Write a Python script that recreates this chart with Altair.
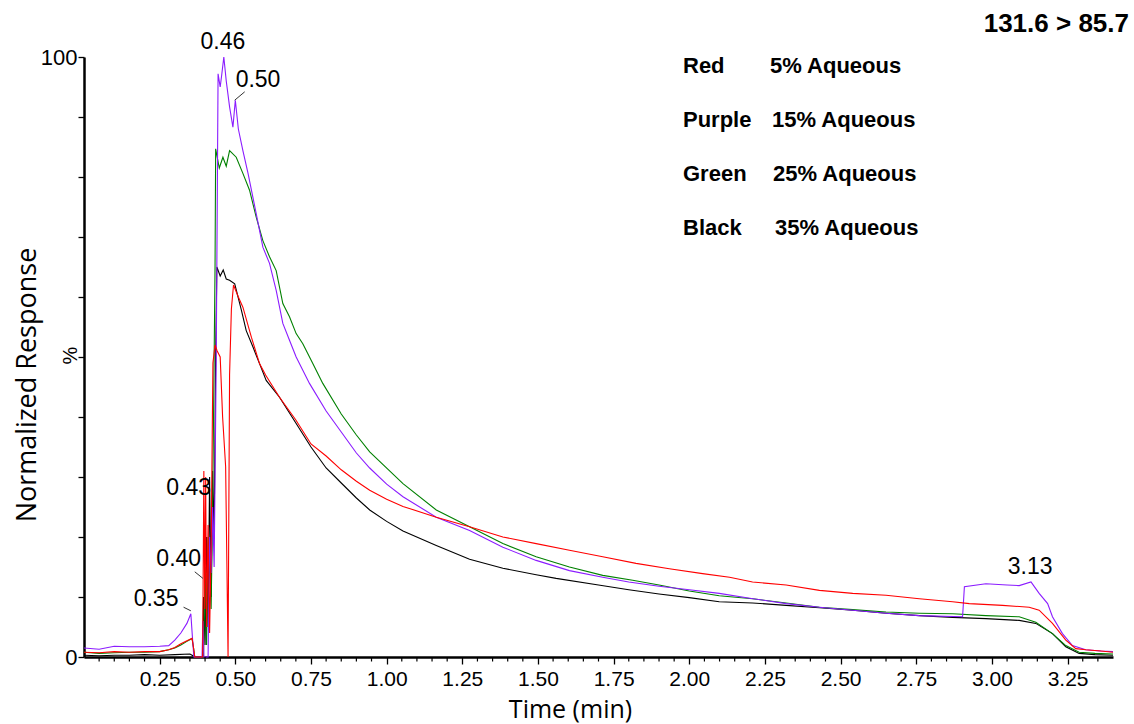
import altair as alt
import pandas as pd
import numpy as np

# ---------------- data ----------------
red_t = [0, 0.05, 0.1, 0.15, 0.2, 0.25, 0.28, 0.3, 0.32, 0.34, 0.357, 0.362, 0.366, 0.392, 0.396, 0.399, 0.402, 0.405, 0.41, 0.415,
         0.42, 0.426, 0.433, 0.44, 0.45, 0.458, 0.468, 0.472, 0.476, 0.481, 0.487, 0.494, 0.51, 0.525, 0.553, 0.58, 0.6, 0.646, 0.7, 0.75,
         0.8, 0.85, 0.9, 0.944, 1.0, 1.054, 1.164, 1.274, 1.384, 1.494, 1.604, 1.714, 1.824, 1.934, 2.044, 2.133, 2.209, 2.32, 2.43, 2.54,
         2.65, 2.76, 2.87, 2.925, 3.035, 3.123, 3.156, 3.2, 3.244, 3.277, 3.31, 3.36, 3.4]
red_v = [0.8, 0.7, 0.9, 0.8, 0.9, 0.9, 1.2, 1.6, 2.2, 2.7, 3.1, 1.5, 0, 0, 31, 8, 30, 5, 22, 4,
         18, 49, 52, 51, 50, 40, 31.7, 16, 0, 47, 58, 62, 60, 58.3, 53.3, 48.9, 47, 43.3, 39.5, 35.5,
         33.5, 31.2, 29.3, 27.8, 26.3, 25.1, 23.3, 21.7, 20, 18.9, 17.8, 16.7, 15.6, 14.7, 13.9, 13.3, 12.5, 12, 11.1, 10.6,
         10.3, 9.7, 9.2, 8.9, 8.6, 8.3, 7.8, 5.6, 2.8, 1.4, 1.2, 1.0, 0.8]

purple_t = [0, 0.05, 0.1, 0.15, 0.2, 0.25, 0.28, 0.3, 0.32, 0.34, 0.353, 0.358, 0.363, 0.39, 0.393, 0.396, 0.41, 0.415, 0.42, 0.425,
            0.43, 0.437, 0.443, 0.45, 0.455, 0.462, 0.47, 0.481, 0.492, 0.5, 0.51, 0.525, 0.542, 0.569, 0.591, 0.613, 0.635, 0.657, 0.679, 0.701,
            0.745, 0.8, 0.85, 0.9, 0.944, 1.0, 1.054, 1.164, 1.274, 1.384, 1.494, 1.604, 1.714, 1.8, 1.9, 2.0, 2.099, 2.2, 2.32, 2.43, 2.54,
            2.65, 2.76, 2.903, 2.909, 2.98, 3.05, 3.09, 3.129, 3.156, 3.184, 3.2, 3.233, 3.266, 3.31, 3.36, 3.4]
purple_v = [1.5, 1.3, 1.8, 1.7, 1.7, 1.8, 1.9, 2.8, 4.0, 5.6, 7.2, 3.5, 0, 0, 6, 0, 0, 20, 14, 25,
            15, 50, 97.2, 95, 97, 100, 96, 91.7, 88.3, 92.8, 88, 84.4, 80.6, 73.9, 68.3, 65.6, 61.1, 55.6, 52.8, 50,
            45.6, 41, 37.5, 34.0, 31.5, 28.8, 26.7, 23.3, 21.1, 18.3, 16.1, 14.4, 13.3, 12.5, 11.8, 11.2, 10.6, 9.8, 8.9, 8.3, 7.8,
            7.3, 6.9, 6.7, 11.7, 12.2, 12.0, 11.9, 12.5, 10.6, 8.9, 6.7, 3.9, 1.9, 1.2, 1.0, 0.9]

green_t = [0, 0.05, 0.1, 0.15, 0.2, 0.25, 0.28, 0.3, 0.32, 0.34, 0.357, 0.362, 0.366, 0.395, 0.4, 0.405, 0.41, 0.42, 0.425, 0.43,
           0.433, 0.435, 0.447, 0.459, 0.47, 0.481, 0.503, 0.525, 0.547, 0.569, 0.591, 0.613, 0.635, 0.657, 0.679, 0.701, 0.723, 0.756, 0.789, 0.85,
           0.9, 0.944, 1.054, 1.164, 1.274, 1.384, 1.494, 1.604, 1.714, 1.813, 1.9, 2.0, 2.099, 2.209, 2.32, 2.43, 2.54, 2.65, 2.76, 2.87,
           2.98, 3.09, 3.145, 3.2, 3.244, 3.288, 3.34, 3.4]
green_v = [0.8, 0.6, 0.7, 0.8, 0.8, 0.9, 1.2, 1.5, 2.0, 2.6, 3.1, 1.5, 0, 0, 15, 2, 20, 8, 25, 50,
           65, 84.7, 81.5, 83.3, 81.8, 84.4, 83.3, 80.6, 77.8, 73.3, 69.4, 66.7, 64.4, 58.9, 56.7, 53.9, 52.2, 48.9, 45.6, 40.5,
           37, 34.2, 28.9, 24.5, 21.7, 18.9, 16.7, 15, 13.6, 12.8, 12, 11, 10.2, 9.7, 9, 8.3, 7.9, 7.5, 7.3, 7.2,
           6.9, 6.7, 5.8, 3.9, 1.9, 0.8, 0.6, 0.5]

black_t = [0, 0.05, 0.1, 0.15, 0.2, 0.25, 0.3, 0.35, 0.36, 0.365, 0.392, 0.395, 0.4, 0.405, 0.41, 0.415, 0.42, 0.425, 0.43, 0.435,
           0.439, 0.45, 0.46, 0.47, 0.481, 0.498, 0.52, 0.536, 0.558, 0.58, 0.602, 0.646, 0.7, 0.75, 0.8, 0.85, 0.9, 0.944, 1.0, 1.054, 1.164,
           1.274, 1.384, 1.494, 1.56, 1.7, 1.8, 1.9, 2.0, 2.099, 2.209, 2.32, 2.43, 2.54, 2.65, 2.76, 2.87, 2.98, 3.09, 3.145, 3.2,
           3.244, 3.288, 3.34, 3.4]
black_v = [0.3, 0.2, 0.3, 0.3, 0.4, 0.3, 0.4, 0.5, 0.2, 0, 0, 10, 2, 20, 5, 30, 10, 31, 20, 50,
           65, 63.5, 64.5, 63, 62.8, 62.2, 57.8, 54.4, 51.7, 48.9, 46.1, 43.3, 39, 35, 31.5, 29, 26.5, 24.5, 22.6, 21.0, 18.6,
           16.3, 14.8, 13.7, 13.1, 12, 11.2, 10.5, 9.9, 9.2, 9.0, 8.6, 8.2, 7.8, 7.3, 6.9, 6.6, 6.4, 6.1, 5.6, 3.9,
           1.7, 0.6, 0.4, 0.3]

# peak annotations
ann_label = ["0.46", "0.50", "0.43", "0.40", "0.35", "3.13"]
ann_t = [0.459, 0.575, 0.346, 0.313, 0.238, 3.126]
ann_v = [102.5, 96.2, 28.1, 16.4, 9.7, 15.0]

# leader lines (from label to peak)
lead_t1 = [0.498, 0.366, 0.329]
lead_v1 = [92.8, 14.2, 8.3]
lead_t2 = [0.531, 0.393, 0.353]
lead_v2 = [94.2, 13.1, 7.7]

legend_names = ["Red", "Purple", "Green", "Black"]
legend_descs = ["5% Aqueous", "15% Aqueous", "25% Aqueous", "35% Aqueous"]

major_ticks = [0.25, 0.50, 0.75, 1.00, 1.25, 1.50, 1.75, 2.00, 2.25, 2.50, 2.75, 3.00, 3.25]
minor_ticks = [round(x, 2) for x in np.arange(0.05, 3.40, 0.05) if abs((x / 0.25) - round(x / 0.25)) > 1e-6]
y_ticks = [0, 10, 20, 30, 40, 50, 60, 70, 80, 90, 100]

# ---------------- chart ----------------
ARIAL = "Liberation Sans"
x_scale = alt.Scale(domain=[0, 3.4], nice=False, zero=False)
y_scale = alt.Scale(domain=[0, 100], nice=False)

x_axis = alt.Axis(values=major_ticks, format=".2f", title="Time (min)", grid=False,
                  titleFont="Open Sans", titleFontSize=25, titleFontWeight="normal", titleColor="black",
                  titleX=486, titleY=60, titleAnchor="middle", titleBaseline="alphabetic",
                  labelFont=ARIAL, labelFontSize=21, labelColor="black", labelPadding=4,
                  labelFlush=False, labelOverlap=False,
                  tickColor="black", tickSize=7, tickWidth=1.3,
                  domainColor="black", domainWidth=2.5)
y_axis = alt.Axis(values=y_ticks, labelExpr="datum.value == 0 || datum.value == 100 ? datum.label : ''",
                  title="%", grid=False,
                  titleFont=ARIAL, titleFontSize=20, titleFontWeight="normal", titleColor="black",
                  titleX=-14, titleY=298, titleAngle=270, titleAlign="center", titleBaseline="middle",
                  labelFont=ARIAL, labelFontSize=22, labelColor="black", labelPadding=1,
                  labelFlush=False, labelOverlap=False,
                  tickColor="black", tickSize=6, tickWidth=1.3,
                  domainColor="black", domainWidth=2.5)

X = alt.X("t:Q", scale=x_scale, axis=x_axis)
Y = alt.Y("v:Q", scale=y_scale, axis=y_axis)


def series(ts, vs, color):
    df = pd.DataFrame({"t": ts, "v": vs})
    return alt.Chart(df).mark_line(color=color, strokeWidth=1.1, interpolate="linear").encode(x=X, y=Y, order="t:Q")


layers = [
    series(black_t, black_v, "#000000"),
    series(green_t, green_v, "#008000"),
    series(purple_t, purple_v, "#8b1cff"),
    series(red_t, red_v, "#ff0000"),
]

minor_df = pd.DataFrame({"t": minor_ticks})
layers.append(alt.Chart(minor_df).mark_rule(color="black", strokeWidth=1.2).encode(
    x=X, y=alt.value(600), y2=alt.value(604.5)))

lead_df = pd.DataFrame({"t": lead_t1, "v": lead_v1, "t2": lead_t2, "v2": lead_v2})
layers.append(alt.Chart(lead_df).mark_rule(color="#333333", strokeWidth=1).encode(
    x=X, y=Y, x2="t2:Q", y2="v2:Q"))

ann_df = pd.DataFrame({"t": ann_t, "v": ann_v, "label": ann_label})
layers.append(alt.Chart(ann_df).mark_text(font=ARIAL, fontSize=23, color="black",
                                          align="center", baseline="middle").encode(x=X, y=Y, text="label:N"))

one = pd.DataFrame({"k": [0]})
layers.append(alt.Chart(one).mark_text(font="Open Sans", fontSize=27, color="black", angle=270,
                                       align="center", baseline="middle").encode(
    x=alt.value(-56), y=alt.value(328), text=alt.value("Normalized Response")))
layers.append(alt.Chart(one).mark_text(font=ARIAL, fontSize=26, fontWeight="bold", color="black",
                                       align="right", baseline="alphabetic").encode(
    x=alt.value(1045), y=alt.value(-25), text=alt.value("131.6 > 85.7")))

desc_x = [686, 688, 689, 691]
for i, (nm, ds) in enumerate(zip(legend_names, legend_descs)):
    yy = 16 + 54 * i
    layers.append(alt.Chart(one).mark_text(font=ARIAL, fontSize=22, fontWeight="bold", color="black",
                                           align="left", baseline="alphabetic").encode(
        x=alt.value(599), y=alt.value(yy), text=alt.value(nm)))
    layers.append(alt.Chart(one).mark_text(font=ARIAL, fontSize=22, fontWeight="bold", color="black",
                                           align="left", baseline="alphabetic").encode(
        x=alt.value(desc_x[i]), y=alt.value(yy), text=alt.value(ds)))

chart = alt.layer(*layers).properties(
    width=1029, height=600,
    padding={"left": 84, "top": 57, "right": 21, "bottom": 67},
    autosize=alt.AutoSizeParams(type="none"),
    background="white",
).configure_view(stroke=None)

chart.save("out.html", embed_options={"renderer": "svg", "actions": False})
